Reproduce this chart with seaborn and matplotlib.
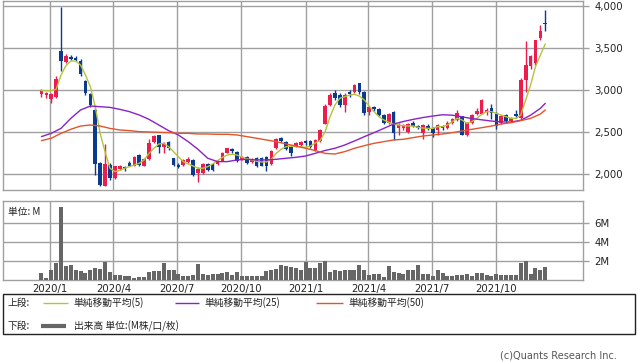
import numpy as np
import pandas as pd
import matplotlib
matplotlib.use("Agg")
import matplotlib.pyplot as plt
import matplotlib.dates as mdates
from matplotlib.lines import Line2D
from matplotlib.patches import Rectangle
import seaborn as sns

# ---------------- data (weekly candles, 2019-12-20 .. 2021-12-10) ----------------
start_week = "2019-12-20"
opens = [2950, 2935, 2890, 2920, 3465, 3335, 3395, 3380, 3345, 3105,
         2950, 2765, 2125, 1860, 2110, 1950, 2060, 2085, 2125, 2095,
         2225, 2100, 2175, 2380, 2460, 2325, 2375, 2185, 2110, 2105,
         2140, 2165, 2010, 2010, 2120, 2120, 2120, 2155, 2255, 2295,
         2265, 2175, 2205, 2140, 2185, 2190, 2200, 2115, 2305, 2425,
         2385, 2320, 2335, 2345, 2390, 2390, 2285, 2390, 2600, 2820,
         2960, 2945, 2820, 2975, 2980, 3080, 2980, 2740, 2800, 2770,
         2700, 2610, 2735, 2545, 2545, 2505, 2610, 2570, 2490, 2570,
         2545, 2525, 2560, 2545, 2605, 2645, 2685, 2465, 2610, 2720,
         2720, 2735, 2785, 2720, 2610, 2700, 2625, 2710, 2665, 3120,
         3280, 3325, 3615, 3795]
highs = [3010, 2975, 2965, 3170, 3990, 3430, 3415, 3410, 3370, 3125,
         2960, 2780, 2140, 2360, 2130, 2100, 2110, 2100, 2150, 2215,
         2240, 2185, 2415, 2470, 2470, 2375, 2390, 2195, 2125, 2175,
         2200, 2175, 2085, 2135, 2135, 2130, 2170, 2265, 2315, 2315,
         2275, 2215, 2215, 2190, 2200, 2205, 2215, 2285, 2425, 2440,
         2395, 2330, 2385, 2395, 2400, 2400, 2415, 2540, 2835, 2960,
         3005, 2965, 2960, 3000, 3075, 3085, 2990, 2810, 2815, 2785,
         2715, 2730, 2750, 2605, 2600, 2610, 2625, 2585, 2600, 2590,
         2560, 2600, 2580, 2625, 2665, 2760, 2695, 2615, 2720, 2780,
         2895, 2790, 2830, 2740, 2700, 2710, 2680, 2760, 3145, 3580,
         3420, 3600, 3770, 3950]
lows = [2920, 2905, 2850, 2900, 3230, 3320, 3360, 3345, 3165, 2945,
        2800, 1990, 1860, 1855, 1930, 1940, 2050, 2040, 2090, 2090,
        2100, 2095, 2170, 2365, 2255, 2245, 2290, 2095, 2075, 2100,
        2130, 1970, 1910, 2000, 2040, 2040, 2110, 2150, 2250, 2255,
        2145, 2165, 2120, 2130, 2085, 2090, 2040, 2105, 2295, 2375,
        2285, 2210, 2325, 2330, 2350, 2305, 2270, 2380, 2590, 2810,
        2880, 2800, 2740, 2920, 2970, 2950, 2700, 2700, 2755, 2690,
        2600, 2600, 2400, 2470, 2520, 2490, 2555, 2530, 2420, 2520,
        2440, 2470, 2520, 2540, 2595, 2630, 2460, 2455, 2600, 2700,
        2710, 2700, 2660, 2540, 2590, 2610, 2615, 2670, 2650, 2980,
        3250, 3300, 3600, 3700]
closes = [2990, 2960, 2950, 3130, 3345, 3405, 3375, 3360, 3195, 2965,
          2820, 2120, 1870, 2120, 1950, 2095, 2095, 2060, 2100, 2205,
          2110, 2175, 2370, 2455, 2325, 2360, 2305, 2105, 2085, 2165,
          2180, 1985, 2060, 2120, 2050, 2050, 2160, 2255, 2305, 2275,
          2160, 2205, 2135, 2180, 2095, 2100, 2090, 2270, 2415, 2395,
          2300, 2245, 2370, 2385, 2365, 2320, 2405, 2525, 2805, 2945,
          2910, 2820, 2940, 2955, 3060, 2980, 2725, 2800, 2770, 2705,
          2610, 2720, 2490, 2585, 2580, 2595, 2570, 2545, 2585, 2545,
          2485, 2585, 2545, 2605, 2650, 2725, 2465, 2605, 2700, 2745,
          2880, 2760, 2725, 2570, 2690, 2625, 2670, 2685, 3120, 3300,
          3405, 3590, 3705, 3785]
# volume, millions of shares
volume_m = [0.7, 0.2, 1.05, 1.75, 7.7, 1.45, 1.55, 1.0, 0.9, 0.77,
            1.0, 1.3, 1.2, 1.85, 0.8, 0.5, 0.5, 0.4, 0.4, 0.2,
            0.3, 0.3, 0.85, 0.9, 0.9, 1.75, 1.05, 1.05, 0.6, 0.4,
            0.4, 0.5, 1.65, 0.6, 0.5, 0.6, 0.6, 0.7, 0.85, 0.5,
            0.8, 0.4, 0.4, 0.4, 0.4, 0.4, 0.9, 1.05, 1.2, 1.6,
            1.45, 1.4, 1.25, 1.0, 1.9, 1.25, 1.3, 1.75, 1.95, 0.85,
            1.05, 0.9, 1.0, 1.1, 1.05, 1.55, 1.0, 0.5, 0.6, 0.6,
            0.3, 1.45, 0.85, 0.7, 0.6, 1.0, 1.0, 1.55, 0.6, 0.6,
            0.4, 1.0, 0.7, 0.4, 0.4, 0.5, 0.5, 0.6, 0.4, 0.7,
            0.7, 0.5, 0.4, 0.6, 0.5, 0.5, 0.5, 0.5, 1.8, 1.95,
            0.6, 1.25, 1.05, 1.35]
# moving averages
ma5 = [2992, 2990, 2992, 3008, 3178, 3290, 3345, 3345, 3298, 3178,
       3040, 2801, 2484, 2266, 2068, 2028, 2040, 2068, 2087, 2107,
       2127, 2167, 2246, 2306, 2357, 2365, 2325, 2266, 2206, 2147,
       2119, 2095, 2068, 2068, 2087, 2119, 2159, 2198, 2226, 2234,
       2226, 2198, 2183, 2167, 2151, 2143, 2143, 2175, 2246, 2294,
       2325, 2333, 2325, 2325, 2317, 2333, 2370, 2400, 2504, 2682,
       2821, 2901, 2920, 2940, 2948, 2928, 2881, 2809, 2742, 2682,
       2643, 2615, 2595, 2583, 2575, 2571, 2571, 2555, 2547, 2543,
       2543, 2563, 2563, 2583, 2623, 2662, 2643, 2603, 2623, 2662,
       2710, 2742, 2742, 2722, 2702, 2682, 2662, 2662, 2702, 2881,
       3060, 3278, 3417, 3548]
# sampled every second week (weeks 0,2,...,102) plus the last week
ma25 = [2445, 2484, 2543, 2662, 2762, 2809, 2801, 2793, 2770, 2742,
        2702, 2650, 2583, 2516, 2464, 2385, 2294, 2187, 2147, 2147,
        2167, 2175, 2167, 2167, 2175, 2187, 2198, 2214, 2246, 2280,
        2306, 2345, 2393, 2444, 2492, 2543, 2595, 2625, 2650, 2672,
        2690, 2705, 2700, 2680, 2660, 2645, 2630, 2620, 2618, 2640,
        2700, 2782, 2841]
ma50 = [2397, 2425, 2484, 2532, 2571, 2583, 2571, 2543, 2524, 2516,
        2504, 2500, 2496, 2492, 2484, 2484, 2476, 2476, 2472, 2472,
        2464, 2445, 2425, 2405, 2385, 2357, 2333, 2306, 2278, 2245,
        2238, 2266, 2306, 2337, 2365, 2385, 2405, 2413, 2433, 2452,
        2464, 2476, 2492, 2512, 2532, 2551, 2571, 2595, 2611, 2635,
        2662, 2714, 2762]
tick_dates = ["2020-01-01", "2020-04-01", "2020-07-01", "2020-10-01",
              "2021-01-01", "2021-04-01", "2021-07-01", "2021-10-01"]
tick_labels = ["2020/1", "2020/4", "2020/7", "2020/10",
               "2021/1", "2021/4", "2021/7", "2021/10"]
price_ticks = [2000, 2500, 3000, 3500, 4000]
vol_ticks = [2, 4, 6]

# ---------------- style ----------------
sns.set_theme(style="white")
plt.rcParams["font.family"] = ["DejaVu Sans", "Noto Sans CJK JP"]
JP = ["Noto Sans CJK JP", "DejaVu Sans"]
RED, BLUE = "#ec1c4f", "#0c3a8c"
C5, C25, C50 = "#b4c43a", "#8a22c8", "#e2552c"
GRID = "#a0a0a0"

W, H = 638, 362
fig = plt.figure(figsize=(W / 100, H / 100), dpi=100)


def fx(px):
    return px / W


def fy(py):
    return 1 - py / H


weeks = pd.date_range(start_week, periods=len(closes), freq="7D")
x = mdates.date2num(weeks)
o, h, l, c = map(np.array, (opens, highs, lows, closes))
cols = [RED if cc >= oo else BLUE for oo, cc in zip(o, c)]

xlim = (mdates.date2num(pd.Timestamp("2019-10-26")),
        mdates.date2num(pd.Timestamp("2022-02-02")))
tx = mdates.date2num(pd.to_datetime(tick_dates))

# ---------------- price panel ----------------
ax = fig.add_axes([fx(3), fy(190), fx(580), (190 - 1) / H])
ax.set_xlim(*xlim)
ax.set_ylim(1809, 4060)
for t in tx:
    ax.axvline(t, color=GRID, lw=1, zorder=0)
for p in price_ticks:
    ax.axhline(p, color=GRID, lw=1, zorder=0)

ax.vlines(x, l, h, colors=cols, lw=1, zorder=2)
body = np.maximum(np.abs(c - o), 14)
ax.bar(x, body, bottom=np.minimum(o, c), width=5.2, color=cols,
       linewidth=0, zorder=3)

ma_idx = list(range(0, len(closes), 2)) + [len(closes) - 1]
x_ma = x[ma_idx]
sns.lineplot(x=x, y=ma5, ax=ax, color=C5, lw=1, zorder=4)
sns.lineplot(x=x_ma, y=ma25, ax=ax, color=C25, lw=1, zorder=4)
sns.lineplot(x=x_ma, y=ma50, ax=ax, color=C50, lw=1, zorder=4)

ax.set_xticks([])
ax.set_xlabel("")
ax.set_ylabel("")
ax.yaxis.tick_right()
ax.set_yticks(price_ticks)
ax.set_yticklabels([f"{p:,}" for p in price_ticks])
ax.tick_params(axis="y", right=True, length=4, width=1, color=GRID,
               labelsize=7.3, pad=4, labelcolor="#222222")
for s in ax.spines.values():
    s.set_color(GRID)
    s.set_linewidth(1)

# ---------------- volume panel ----------------
axv = fig.add_axes([fx(3), fy(280), fx(580), (280 - 201) / H])
vol_df = pd.DataFrame({"x": x, "vol": volume_m})
sns.barplot(data=vol_df, x="x", y="vol", native_scale=True, ax=axv,
            color="#666666", saturation=1, width=0.82, linewidth=0, zorder=3)
axv.set_xlim(*xlim)
axv.set_ylim(0, 8.3)
for t in tx:
    axv.axvline(t, color=GRID, lw=1, zorder=0)
for v in vol_ticks:
    axv.axhline(v, color=GRID, lw=1, zorder=0)
axv.set_xlabel("")
axv.set_ylabel("")
axv.yaxis.tick_right()
axv.set_yticks(vol_ticks)
axv.set_yticklabels([f"{v}M" for v in vol_ticks])
axv.tick_params(axis="y", right=True, length=4, width=1, color=GRID,
                labelsize=7.3, pad=4, labelcolor="#222222")
axv.set_xticks(tx)
axv.set_xticklabels(tick_labels)
axv.tick_params(axis="x", bottom=False, length=0, labelsize=7.3, pad=3,
                labelcolor="#222222")
for s in axv.spines.values():
    s.set_color(GRID)
    s.set_linewidth(1)
axv.text(0.008, 0.93, "単位: M", transform=axv.transAxes, ha="left", va="top",
         fontsize=7, family=JP, color="#222222")

# ---------------- legend box ----------------
fig.add_artist(Rectangle((fx(3), fy(334)), fx(632), (334 - 294) / H,
                         transform=fig.transFigure, fill=False,
                         ec="#222222", lw=1))
r1, r2 = 303, 326
fig.text(fx(8), fy(r1), "上段:", fontsize=7, family=JP, va="center", color="#222222")
items = [(43, 68, C5, "単純移動平均(5)"), (175, 199, C25, "単純移動平均(25)"),
         (316, 343, C50, "単純移動平均(50)")]
for x0, x1, col, lab in items:
    fig.add_artist(Line2D([fx(x0), fx(x1)], [fy(r1), fy(r1)], color=col, lw=1,
                          transform=fig.transFigure, solid_capstyle="butt"))
    fig.text(fx(x1 + 5), fy(r1), lab, fontsize=7, family=JP, va="center",
             color="#222222")
fig.text(fx(8), fy(r2), "下段:", fontsize=7, family=JP, va="center", color="#222222")
fig.add_artist(Line2D([fx(41), fx(66)], [fy(r2), fy(r2)], color="#666666", lw=3,
                      transform=fig.transFigure, solid_capstyle="butt"))
fig.text(fx(74), fy(r2), "出来高 単位:(M株/口/枚)", fontsize=7, family=JP,
         va="center", color="#222222")

fig.text(fx(617), fy(355), "(c)Quants Research Inc.", fontsize=7, ha="right",
         va="center", color="#555555")

fig.savefig("out.png", dpi=100)
